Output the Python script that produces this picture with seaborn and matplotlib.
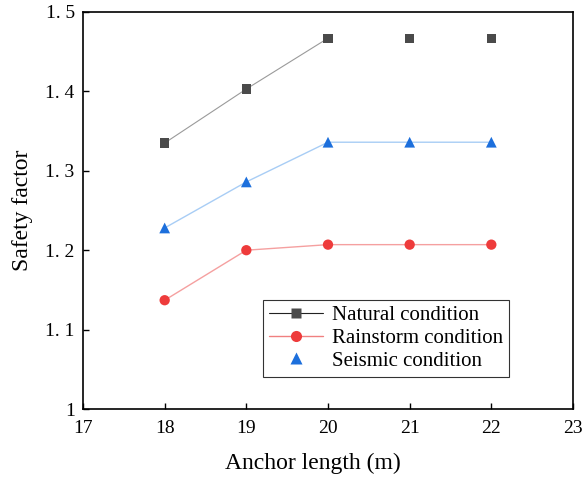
import numpy as np
import pandas as pd
import matplotlib
matplotlib.use("Agg")
import matplotlib.pyplot as plt
import seaborn as sns
from matplotlib.lines import Line2D

anchor_length = [18, 19, 20, 21, 22]
natural = [1.335, 1.403, 1.467, 1.467, 1.467]
rainstorm = [1.137, 1.200, 1.207, 1.207, 1.207]
seismic = [1.228, 1.286, 1.336, 1.336, 1.336]
x_ticks = [17, 18, 19, 20, 21, 22, 23]
y_ticks = [1.0, 1.1, 1.2, 1.3, 1.4, 1.5]
y_tick_labels = ["1", "1. 1", "1. 2", "1. 3", "1. 4", "1. 5"]

sns.set_style("white")
plt.rcParams['font.family'] = ['Liberation Serif', 'DejaVu Serif']
plt.rcParams['text.color'] = 'black'
plt.rcParams['axes.labelcolor'] = 'black'

c_nat = "#4a4a4a"
c_rain = "#ee3b3b"
c_seis = "#1c6fdc"

fig = plt.figure(figsize=(5.86, 4.83), dpi=100)
ax = fig.add_axes([83/586, 1 - 409/483, (573-83)/586, (409-12)/483])

df_nat_line = pd.DataFrame({"x": anchor_length[:3], "y": natural[:3]})
sns.lineplot(data=df_nat_line, x="x", y="y", ax=ax, color="#9a9a9a", lw=0.8, zorder=2)
sns.lineplot(x=anchor_length, y=rainstorm, ax=ax, color="#f5a0a0", lw=1.0, zorder=2)
sns.lineplot(x=anchor_length, y=seismic, ax=ax, color="#a8cdf5", lw=1.0, zorder=2)

sns.scatterplot(x=anchor_length, y=natural, ax=ax, marker="s", s=45, color=c_nat, edgecolor="none", zorder=3)
sns.scatterplot(x=anchor_length, y=rainstorm, ax=ax, marker="o", s=55, color=c_rain, edgecolor="none", zorder=3)
sns.scatterplot(x=anchor_length, y=seismic, ax=ax, marker="^", s=60, color=c_seis, edgecolor="none", zorder=3)

ax.set_xlim(17, 23)
ax.set_ylim(1.0, 1.5)
ax.set_xticks(x_ticks)
ax.set_xticklabels([str(t) for t in x_ticks])
ax.set_yticks(y_ticks)
ax.set_yticklabels(y_tick_labels)
ax.tick_params(direction="in", length=4, width=1, labelsize=14, colors="black",
               top=False, right=False, bottom=True, left=True)
ax.tick_params(axis="x", pad=8)
ax.tick_params(axis="y", pad=6)
for s in ax.spines.values():
    s.set_color("black")
    s.set_linewidth(1.2)

ax.set_xlabel("Anchor length (m)", fontsize=17, labelpad=14)
ax.set_ylabel("Safety factor", fontsize=17, labelpad=9)
ax.xaxis.set_label_coords(0.47, -0.11)

handles = [
    Line2D([0], [0], color="#222222", lw=0.8, marker="s", markersize=7, markerfacecolor=c_nat, markeredgecolor="none"),
    Line2D([0], [0], color="#f08080", lw=1.0, marker="o", markersize=8, markerfacecolor=c_rain, markeredgecolor="none"),
    Line2D([0], [0], color="none", lw=0, marker="^", markersize=8, markerfacecolor=c_seis, markeredgecolor="none"),
]
labels = ["Natural condition", "Rainstorm condition", "Seismic condition"]
leg = ax.legend(handles, labels, loc="lower left", bbox_to_anchor=((263-83)/490, (409-377)/397),
                fontsize=15, frameon=True, fancybox=False, edgecolor="black",
                handlelength=2.6, handletextpad=0.4, borderpad=0.3, labelspacing=0.15,
                borderaxespad=0)
leg.get_frame().set_linewidth(0.8)

fig.savefig("out.png", dpi=100)
